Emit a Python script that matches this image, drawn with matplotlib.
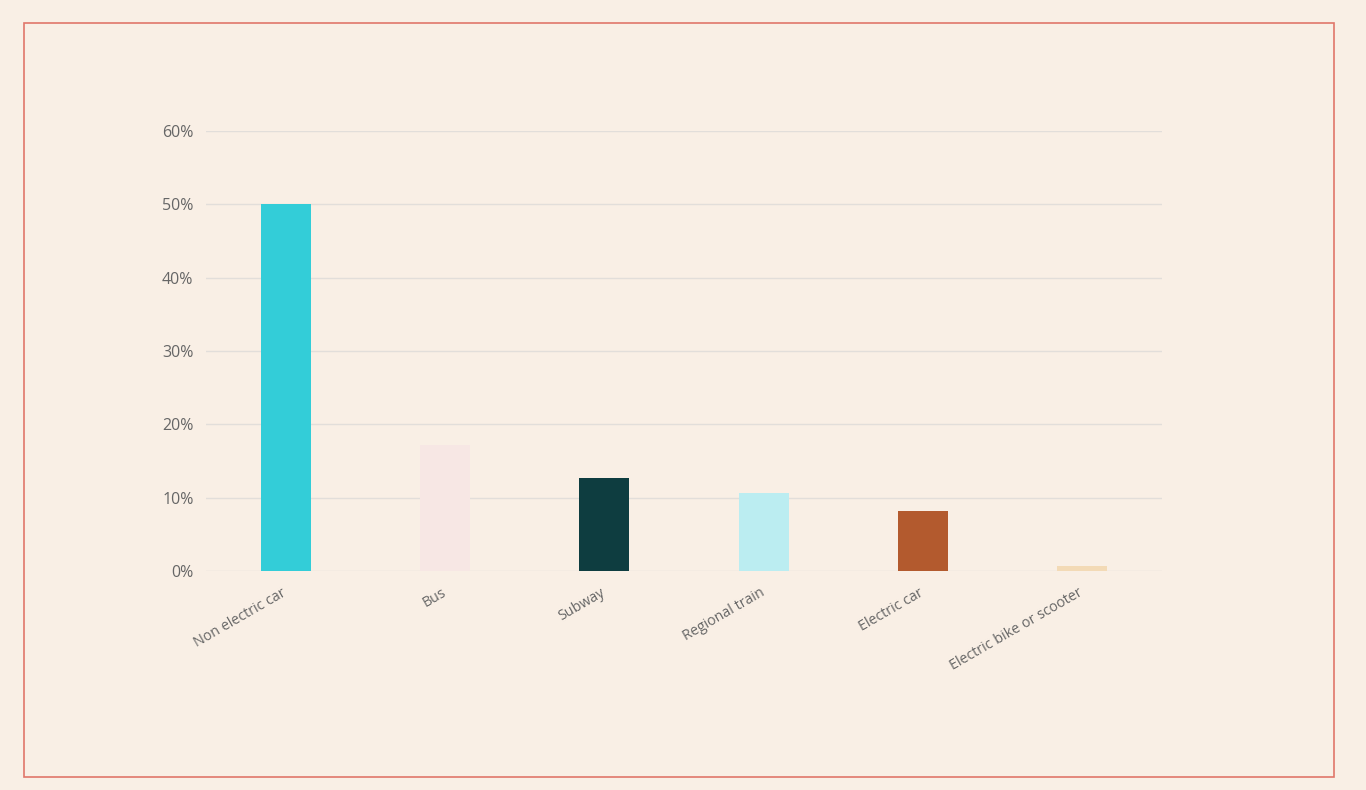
import matplotlib
matplotlib.use("Agg")
import matplotlib.pyplot as plt
from matplotlib.patches import Rectangle
from matplotlib.ticker import FuncFormatter
import matplotlib.transforms as mtransforms

categories = ["Non electric car", "Bus", "Subway", "Regional train", "Electric car", "Electric bike or scooter"]
values = [50.0, 17.2, 12.7, 10.6, 8.2, 0.7]
colors = ["#33CDD8", "#F7E7E4", "#0E3D40", "#BBEDF1", "#B35A2E", "#F3DAB6"]
yticks = [0, 10, 20, 30, 40, 50, 60]

bg = "#F9EFE5"
plt.rcParams['font.family'] = ['Open Sans', 'DejaVu Sans']

fig = plt.figure(figsize=(13.66, 7.90), dpi=100, facecolor=bg)
ax = fig.add_axes([206/1366, 1 - 571/790, (1162-206)/1366, (571-131)/790])
ax.set_facecolor(bg)

x = list(range(len(categories)))
ax.bar(x, values, width=0.315, color=colors, zorder=3)

ax.set_xlim(-0.5, len(categories) - 0.5)
ax.set_ylim(0, 60)
ax.set_yticks(yticks)
ax.yaxis.set_major_formatter(FuncFormatter(lambda v, p: f"{int(v)}%"))
ax.grid(axis='y', color='#E2DEDA', linewidth=1, zorder=0)
for s in ax.spines.values():
    s.set_visible(False)
ax.tick_params(axis='both', length=0, labelcolor='#666666')
ax.tick_params(axis='y', pad=9, labelsize=11.5)
ax.set_xticks(x)
ax.set_xticklabels(categories, rotation=30, ha='right', rotation_mode='anchor', fontsize=10.3)
ax.tick_params(axis='x', pad=11)

offset = mtransforms.ScaledTranslation(-4/100, 1/100, fig.dpi_scale_trans)
for lab in ax.get_xticklabels():
    lab.set_transform(lab.get_transform() + offset)

border = Rectangle((24/1366, 1 - 777/790), (1334-24)/1366, (777-23)/790,
                   transform=fig.transFigure, fill=False, edgecolor='#E0766A', linewidth=1.2)
fig.patches.append(border)

fig.savefig("out.png", dpi=100, facecolor=bg)
